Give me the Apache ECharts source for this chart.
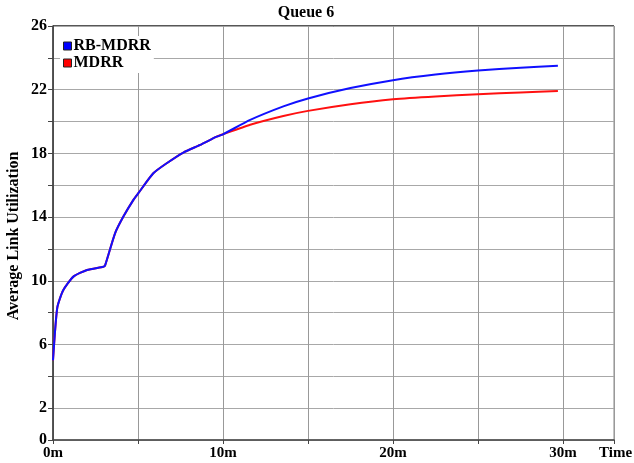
<!DOCTYPE html>
<html>
<head>
<meta charset="utf-8">
<script src="https://cdn.jsdelivr.net/npm/echarts@6/dist/echarts.min.js"></script>
<style>
html,body{margin:0;padding:0;background:#fff;}
#c{width:634px;height:463px;}
</style>
</head>
<body>
<div id="c"></div>
<script>
var chartTitle = 'Queue 6';
var yAxisName = 'Average Link Utilization';
var xAxisName = 'Time';
var seriesNames = ['RB-MDRR', 'MDRR'];
var yLabelValues = [0, 2, 6, 10, 14, 18, 22, 26];
var xLabelValues = [0, 10, 20, 30];

var timesMin = [0, 0.25, 0.6, 1.2, 2.0, 2.96, 3.06, 3.65, 4.14, 4.73, 5.02, 5.9, 6.69, 7.67, 8.65, 9.63, 10, 11.6, 13.55, 15, 17.5, 20, 22.5, 25, 27.5, 29.7];
var rbMdrr = [5.0, 8.3, 9.4, 10.26, 10.68, 10.88, 10.95, 12.98, 14.03, 15.08, 15.5, 16.75, 17.38, 18.05, 18.53, 19.05, 19.2, 20.1, 20.95, 21.45, 22.1, 22.6, 22.95, 23.2, 23.38, 23.5];
var mdrr   = [5.0, 8.3, 9.4, 10.26, 10.68, 10.88, 10.95, 12.98, 14.03, 15.08, 15.5, 16.75, 17.38, 18.05, 18.53, 19.05, 19.2, 19.8, 20.35, 20.67, 21.09, 21.4, 21.58, 21.71, 21.83, 21.92];

function pairs(xs, ys){ return xs.map(function(x,i){ return [x, ys[i]]; }); }

var font = 'Liberation Serif';
var chart = echarts.init(document.getElementById('c'), null, {renderer:'canvas'});
chart.setOption({
  animation:false,
  backgroundColor:'#fff',
  grid:{left:53,right:20,top:26,bottom:23,containLabel:false,outerBoundsMode:'none',show:true,borderColor:'#888',borderWidth:1,backgroundColor:'transparent'},
  legend:{
    left:60, top:36, orient:'vertical', itemGap:1, itemWidth:8, itemHeight:8, icon:'rect',
    backgroundColor:'#fff', padding:[2,3,2,3],
    textStyle:{fontFamily:font,fontWeight:'bold',fontSize:16,color:'#000',padding:[0,0,0,-3]},
    itemStyle:{borderColor:'#222',borderWidth:1},
    data:seriesNames
  },
  xAxis:{
    type:'value', min:0, max:33, interval:5,
    axisLine:{show:true,lineStyle:{color:'#444',width:1.5}},
    axisTick:{show:true,length:4,lineStyle:{color:'#444'}},
    splitLine:{show:true,lineStyle:{color:'#999',width:1}},
    axisLabel:{margin:6,fontFamily:font,fontWeight:'bold',fontSize:15,color:'#000',
      formatter:function(v){ return xLabelValues.indexOf(v)>=0 ? v+'m' : ''; }}
  },
  yAxis:{
    type:'value', min:0, max:26, interval:2,
    axisLine:{show:true,lineStyle:{color:'#333',width:1.5}},
    axisTick:{show:true,length:5,lineStyle:{color:'#444'}},
    splitLine:{show:true,lineStyle:{color:'#a8a8a8',width:1}},
    axisLabel:{margin:6,fontFamily:font,fontWeight:'bold',fontSize:16,color:'#000',
      formatter:function(v){ return yLabelValues.indexOf(v)>=0 ? String(v) : ''; }}
  },
  graphic:[
    {type:'text',x:306,y:5,style:{text:chartTitle,fill:'#000',font:'bold 16px "Liberation Serif"',textAlign:'center'}},
    {type:'text',x:599,y:446,style:{text:xAxisName,fill:'#000',font:'bold 15px "Liberation Serif"'}},
    {type:'text',x:14,y:236,rotation:Math.PI/2,style:{text:yAxisName,fill:'#000',font:'bold 16px "Liberation Serif"',textAlign:'center',textVerticalAlign:'middle'}},
    {type:'line',shape:{x1:53,y1:26,x2:614,y2:26},style:{stroke:'#333',lineWidth:1.5}}
  ],
  series:[
    {name:seriesNames[0],type:'line',data:pairs(timesMin,rbMdrr),showSymbol:false,smooth:0.2,z:3,
      color:'#0000ff',lineStyle:{color:'#1010ff',width:2}},
    {name:seriesNames[1],type:'line',data:pairs(timesMin,mdrr),showSymbol:false,smooth:0.2,z:2,
      color:'#ff0000',lineStyle:{color:'#ff1010',width:2}}
  ]
});
</script>
</body>
</html>
